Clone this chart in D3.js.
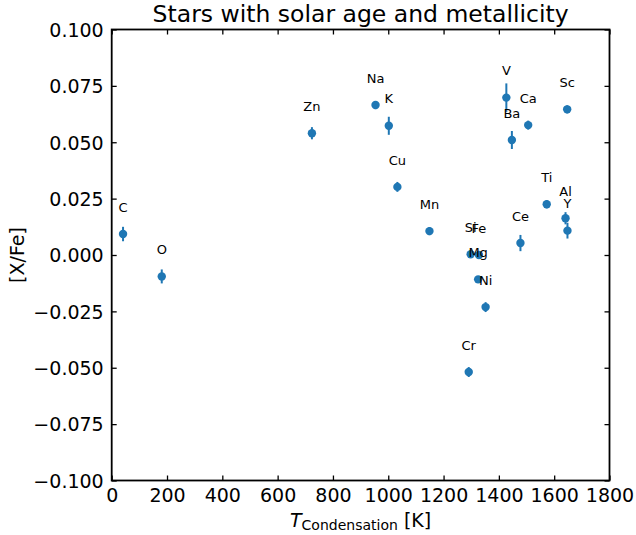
<!DOCTYPE html>
<html>
<head>
<meta charset="utf-8">
<script src="https://cdn.jsdelivr.net/npm/d3@7"></script>
<style>
  html, body { margin: 0; padding: 0; background: #fff; }
  svg { display: block; font-family: "DejaVu Sans", sans-serif; }
</style>
</head>
<body>
<div id="chart"></div>
<script>
// ---- data ----
const elements = ["C", "O", "Zn", "Na", "K", "Cu", "Mn", "Cr", "Si", "Fe", "Mg", "Ni", "V", "Ba", "Ce", "Ca", "Ti", "Al", "Y", "Sc"];
const tCond    = [41, 181, 724, 954, 1002, 1033, 1149, 1291, 1298, 1328, 1325, 1352, 1427, 1447, 1478, 1506, 1573, 1641, 1648, 1647];
const xFe      = [0.0093, -0.0095, 0.0540, 0.0665, 0.0573, 0.0302, 0.0106, -0.0519, 0.0003, 0.0000, -0.0108, -0.0231, 0.0698, 0.0510, 0.0053, 0.0576, 0.0225, 0.0163, 0.0108, 0.0646];
const xFeErr   = [0.0032, 0.0031, 0.0027, 0.0018, 0.0040, 0.0022, 0.0018, 0.0022, 0.0012, 0.0000, 0.0015, 0.0022, 0.0063, 0.0040, 0.0036, 0.0020, 0.0018, 0.0027, 0.0035, 0.0018];
const xTicks   = [0, 200, 400, 600, 800, 1000, 1200, 1400, 1600, 1800];
const yTicks   = [-0.100, -0.075, -0.050, -0.025, 0.000, 0.025, 0.050, 0.075, 0.100];
const titleText = "Stars with solar age and metallicity";

const W = 636, H = 535;
const m = { left: 111.7, right: W - 609.5, top: 29.5, bottom: H - 480.5 };
const blue = "#1f77b4";

const svg = d3.select("#chart").append("svg").attr("width", W).attr("height", H);

const x = d3.scaleLinear().domain([0, 1800]).range([m.left, W - m.right]);
const y = d3.scaleLinear().domain([-0.1, 0.1]).range([H - m.bottom, m.top]);

const fmtY = v => (v < 0 ? "\u2212" : "") + Math.abs(v).toFixed(3);
const tickLen = 5;

// bottom axis
const gx = svg.append("g").attr("transform", `translate(0,${H - m.bottom})`)
  .call(d3.axisBottom(x).tickValues(xTicks).tickSizeInner(-tickLen).tickSizeOuter(0).tickPadding(8).tickFormat(d3.format("d")));
// top axis (ticks only)
const gxt = svg.append("g").attr("transform", `translate(0,${m.top})`)
  .call(d3.axisTop(x).tickValues(xTicks).tickSizeInner(-tickLen).tickSizeOuter(0).tickFormat(""));
// left axis
const gy = svg.append("g").attr("transform", `translate(${m.left},0)`)
  .call(d3.axisLeft(y).tickValues(yTicks).tickSizeInner(-tickLen).tickSizeOuter(0).tickPadding(8).tickFormat(fmtY));
// right axis (ticks only)
const gyr = svg.append("g").attr("transform", `translate(${W - m.right},0)`)
  .call(d3.axisRight(y).tickValues(yTicks).tickSizeInner(-tickLen).tickSizeOuter(0).tickFormat(""));

[gx, gxt, gy, gyr].forEach(g => {
  g.select(".domain").remove();
  g.selectAll(".tick line").attr("stroke", "#000").attr("stroke-width", 1.3);
  g.selectAll("text").attr("fill", "#000").attr("font-size", "19px").attr("font-family", "DejaVu Sans, sans-serif");
});
gy.selectAll("text").attr("dy", "0.36em");

// frame
svg.append("rect")
  .attr("x", m.left).attr("y", m.top)
  .attr("width", W - m.left - m.right).attr("height", H - m.top - m.bottom)
  .attr("fill", "none").attr("stroke", "#000").attr("stroke-width", 1.8);

const pts = elements.map((e, i) => ({ e, t: tCond[i], v: xFe[i], err: xFeErr[i] }));

// error bars
svg.append("g").selectAll("line").data(pts).join("line")
  .attr("x1", d => x(d.t)).attr("x2", d => x(d.t))
  .attr("y1", d => y(d.v - d.err)).attr("y2", d => y(d.v + d.err))
  .attr("stroke", blue).attr("stroke-width", 2);

// markers
svg.append("g").selectAll("circle").data(pts).join("circle")
  .attr("cx", d => x(d.t)).attr("cy", d => y(d.v)).attr("r", 4.2)
  .attr("fill", blue);

// element labels
svg.append("g").selectAll("text").data(pts).join("text")
  .attr("x", d => x(d.t)).attr("y", d => y(d.v) - 27)
  .attr("text-anchor", "middle").attr("dy", "0.36em")
  .attr("font-size", "13px").attr("fill", "#000")
  .text(d => d.e);

// title
svg.append("text").attr("x", (m.left + W - m.right) / 2).attr("y", 22)
  .attr("text-anchor", "middle").attr("font-size", "23.5px").attr("fill", "#000")
  .text(titleText);

// y label
svg.append("text")
  .attr("transform", `translate(24,${(m.top + H - m.bottom) / 2}) rotate(-90)`)
  .attr("text-anchor", "middle").attr("font-size", "19px").attr("fill", "#000")
  .text("[X/Fe]");

// x label
const xl = svg.append("text").attr("x", (m.left + W - m.right) / 2).attr("y", 527)
  .attr("text-anchor", "middle").attr("font-size", "19px").attr("fill", "#000");
xl.append("tspan").attr("font-style", "italic").text("T");
xl.append("tspan").attr("font-size", "14px").attr("dy", 3).text("Condensation");
xl.append("tspan").attr("dy", -3).text(" [K]");
</script>
</body>
</html>
